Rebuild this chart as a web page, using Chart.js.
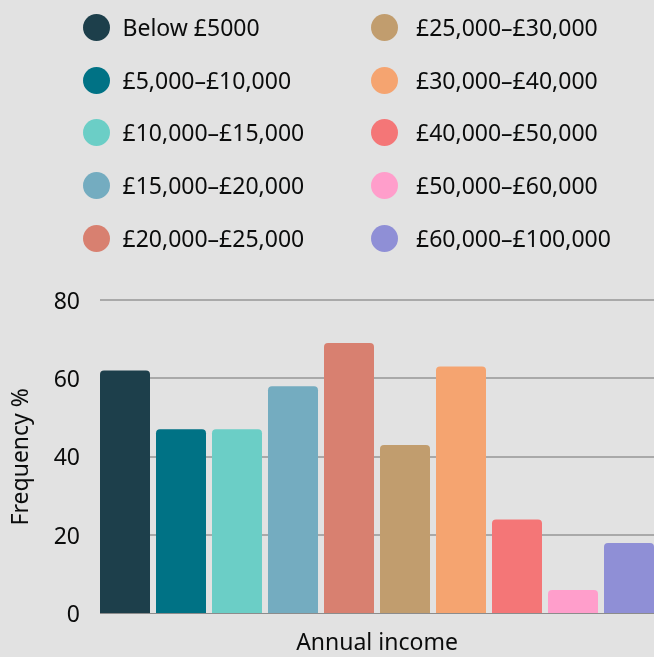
<!DOCTYPE html>
<html>
<head>
<meta charset="utf-8">
<script src="https://cdn.jsdelivr.net/npm/chart.js@4/dist/chart.umd.min.js"></script>
<style>
  html, body { margin: 0; padding: 0; background: #e2e2e2; }
  #wrap { position: relative; width: 654px; height: 657px; overflow: hidden; }
  #c { position: absolute; left: 0; top: 0; }
  .lg { position: absolute; font-family: "Noto Sans", sans-serif; font-size: 23px; color: #0b0c0c; white-space: nowrap; }
  .dot { position: absolute; width: 27px; height: 27px; border-radius: 50%; }
  .txt { position: absolute; line-height: 27px; }
</style>
</head>
<body>
<div id="wrap">
  <canvas id="c" width="654" height="657"></canvas>
  <div id="legend"></div>
</div>
<script>
const categories = ["Below £5000", "£5,000–£10,000", "£10,000–£15,000", "£15,000–£20,000", "£20,000–£25,000",
                    "£25,000–£30,000", "£30,000–£40,000", "£40,000–£50,000", "£50,000–£60,000", "£60,000–£100,000"];
const values = [62, 47, 47, 58, 69, 43, 63, 24, 6, 18];
const colors = ["#1d3f4b", "#007285", "#6bcec6", "#74acc0", "#d88070",
                "#c19d6e", "#f5a470", "#f47677", "#ff9ecb", "#8f8fd6"];
const xTitle = "Annual income";
const yTitle = "Frequency %";
const yMin = 0, yMax = 80, yStep = 20;

const FONT = '"Noto Sans", sans-serif';
const TEXT = '#0b0c0c';

// HTML legend (two columns, column-major)
const legend = document.getElementById('legend');
categories.forEach((name, i) => {
  const col = Math.floor(i / 5), row = i % 5;
  const item = document.createElement('div');
  item.className = 'lg';
  item.style.left = (col === 0 ? 82.5 : 371) + 'px';
  item.style.top = (14 + row * 52.7) + 'px';
  const dot = document.createElement('div');
  dot.className = 'dot';
  dot.style.left = '0px'; dot.style.top = '0px';
  dot.style.background = colors[i];
  const txt = document.createElement('div');
  txt.className = 'txt';
  txt.style.left = (col === 0 ? 40 : 45) + 'px';
  txt.style.top = '0px';
  txt.textContent = name;
  item.appendChild(dot); item.appendChild(txt);
  legend.appendChild(item);
});

const datasets = categories.map((name, i) => ({
  label: name,
  data: [values[i]],
  backgroundColor: colors[i],
  borderWidth: 0,
  borderRadius: 4,
  borderSkipped: 'start',
  categoryPercentage: 560 / 554,
  barPercentage: 50 / 56
}));

new Chart(document.getElementById('c'), {
  type: 'bar',
  data: { labels: [""], datasets },
  options: {
    responsive: false,
    animation: false,
    devicePixelRatio: 1,
    layout: { padding: { top: 300, right: 0, left: 0, bottom: 0 } },
    plugins: { legend: { display: false }, tooltip: { enabled: false } },
    scales: {
      x: {
        grid: { display: false },
        border: { display: false },
        ticks: { display: false },
        title: { display: true, text: xTitle, color: TEXT, font: { family: FONT, size: 23 }, padding: { top: 12, bottom: 0 } },
        afterFit: (s) => { s.height = 43.5; }
      },
      y: {
        min: yMin, max: yMax,
        grid: {
          color: (c) => c.tick && c.tick.value === 0 ? '#8c8c8c' : '#a9a9a9',
          lineWidth: (c) => c.tick && c.tick.value === 0 ? 1 : 2,
          drawTicks: false
        },
        border: { display: false },
        ticks: { stepSize: yStep, color: TEXT, font: { family: FONT, size: 23 }, padding: 20, labelOffset: 2 },
        title: { display: true, text: yTitle, color: TEXT, font: { family: FONT, size: 23 }, padding: { top: 8, bottom: 0 } },
        afterFit: (s) => { s.width = 100; }
      }
    }
  }
});
</script>
</body>
</html>
